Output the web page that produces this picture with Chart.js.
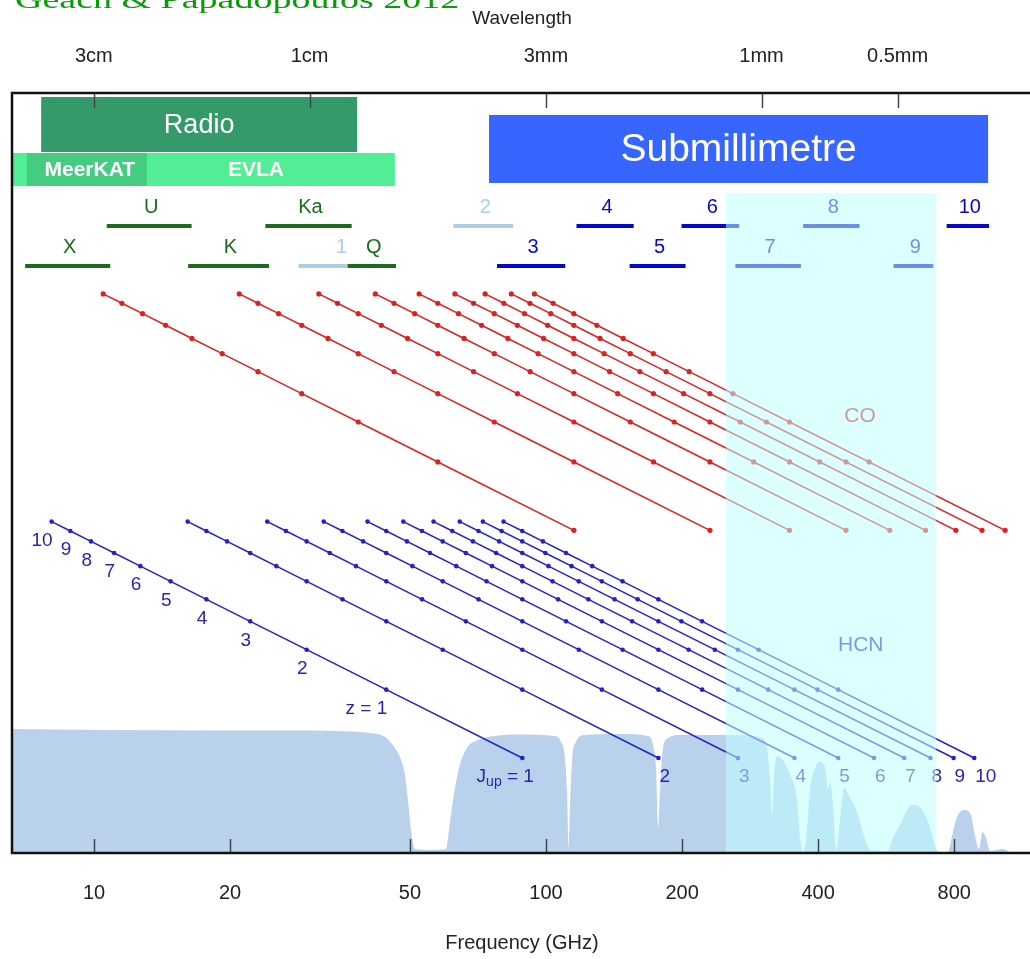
<!DOCTYPE html>
<html>
<head>
<meta charset="utf-8">
<script src="https://cdn.jsdelivr.net/npm/chart.js@4.4.0/dist/chart.umd.min.js"></script>
<style>
  html, body { margin: 0; padding: 0; background: #fff; overflow: hidden; }
  canvas { display: block; }
</style>
</head>
<body>
<canvas id="chart" width="1036" height="959"></canvas>
<script>
// rest frequencies of the rotational lines (GHz)
const coRest = [115.27, 230.54, 345.80, 461.04, 576.27, 691.47, 806.65, 921.80, 1036.91];
const hcnRest = [88.63, 177.26, 265.89, 354.51, 443.12, 531.72, 620.30, 708.88, 797.43, 885.97];
const redshifts = [0, 1, 2, 3, 4, 5, 6, 7, 8, 9, 10];

// axis ticks
const freqTicks = [10, 20, 50, 100, 200, 400, 800];
const wavelengthLabels = ['3cm', '1cm', '3mm', '1mm', '0.5mm'];
const wavelengthMM = [30, 10, 3, 1, 0.5];

// atmospheric transmission
const atmFreq = [6.585, 10.31, 20.0, 28.56, 33.8, 40.8, 44.05, 46.33, 47.5, 48.75,
  49.5, 50.27, 51.3, 55.4, 60.1, 60.7, 61.6, 62.9, 64.5, 66.85,
  70.7, 77.1, 87.6, 104.7, 108.0, 109.9, 111.3, 112.2, 113.0, 114.2,
  116.5, 121.9, 145.8, 168.2, 172.5, 175.2, 177.0, 178.8, 181.5, 186.2,
  197.9, 268.7, 300.6, 308.3, 313.1, 316.2, 319.5, 324.4, 334.5, 346.6,
  359.3, 364.8, 370.4, 376.1, 383.8, 393.7, 403.9, 414.3, 420.7, 425.0,
  431.5, 438.2, 447.2, 456.4, 470.6, 487.6, 505.3, 521.0, 571.0, 585.7,
  607.0, 625.9, 648.6, 675.6, 700.1, 721.9, 736.7, 775.2, 791.1, 811.5,
  841.0, 871.6, 889.5, 907.8, 924.1, 940.8, 960.1, 1025.9, 1063, 1189];
const atmTrans = [1.00, 0.992, 0.988, 0.988, 0.984, 0.968, 0.935, 0.847, 0.774, 0.629,
  0.427, 0.185, 0.032, 0.024, 0.032, 0.121, 0.306, 0.524, 0.71, 0.847,
  0.911, 0.944, 0.956, 0.944, 0.895, 0.79, 0.508, 0.04, 0.387, 0.75,
  0.895, 0.952, 0.96, 0.944, 0.871, 0.669, 0.202, 0.508, 0.847, 0.927,
  0.952, 0.952, 0.927, 0.847, 0.589, 0.306, 0.629, 0.782, 0.75, 0.629,
  0.427, 0.121, 0.008, 0.105, 0.508, 0.685, 0.734, 0.685, 0.508, 0.573,
  0.387, 0.024, 0.266, 0.524, 0.444, 0.331, 0.137, 0.024, 0.016, 0.121,
  0.226, 0.331, 0.387, 0.363, 0.25, 0.089, 0.008, 0.008, 0.137, 0.29,
  0.347, 0.306, 0.137, 0.032, 0.169, 0.121, 0.016, 0.032, 0.008, 0.008];

// receiver bands (GHz)
const rxNames = ['X', 'U', 'K', 'Ka', '1', 'Q', '2', '3', '4', '5', '6', '7', '8', '9', '10'];
const rxLow = [7.04, 10.67, 16.15, 23.94, 28.35, 36.41, 62.4, 77.9, 116.8, 153.1, 199.4, 262.4, 370.7, 587.2, 769.8];
const rxHigh = [10.86, 16.44, 24.38, 37.15, 43.1, 46.58, 84.6, 110.3, 156.3, 203.6, 267.6, 366.3, 493.9, 718.9, 955.3];
const rxRow = [1, 0, 1, 0, 1, 1, 0, 1, 0, 1, 0, 1, 0, 1, 0];
const rxKind = ['vla', 'vla', 'vla', 'vla', 'future', 'vla', 'future', 'alma', 'alma', 'alma', 'alma', 'alma', 'alma', 'alma', 'alma'];

// wide regions and facilities (GHz)
const radioRange = [7.64, 38.2];
const submmBoxRange = [74.8, 950.7];
const evlaRange = [6.5, 46.3];
const meerkatRange = [7.10, 13.09];
const submmShade = [250, 730];

const SANS = '"Liberation Sans", Arial, Helvetica, sans-serif';
Chart.defaults.font.family = SANS;

const RED = '#dd2020';
const BLUE = '#2323c4';
const kindColor = { vla: '#1c6b1c', alma: '#0707c6', future: '#a9d0e0' };

const datasets = [];
datasets.push({
    data: atmFreq.map((f, i) => ({ x: f, y: atmTrans[i] })),
    yAxisID: 'yAtm',
    fill: 'origin',
    backgroundColor: '#b9d1ea',
    borderWidth: 0,
    pointRadius: 0,
    cubicInterpolationMode: 'monotone',
    order: 2
});
coRest.forEach(nu => datasets.push({
    data: redshifts.map(z => ({ x: nu / (1 + z), y: 1 + z })),
    yAxisID: 'yCO',
    borderColor: RED,
    backgroundColor: RED,
    borderWidth: 1.5,
    pointRadius: 2.6,
    pointBorderWidth: 0,
    order: 0
}));
hcnRest.forEach(nu => datasets.push({
    data: redshifts.map(z => ({ x: nu / (1 + z), y: 1 + z })),
    yAxisID: 'yHCN',
    borderColor: BLUE,
    backgroundColor: BLUE,
    borderWidth: 1.5,
    pointRadius: 2.3,
    pointBorderWidth: 0,
    order: 0
}));

const decor = {
    id: 'decor',
    afterDatasetsDraw(chart) {
        const { ctx, chartArea: area, scales } = chart;
        const x = scales.x, yCO = scales.yCO, yHCN = scales.yHCN;
        const top = area.top;
        const px = v => Math.max(area.left, x.getPixelForValue(v));
        ctx.save();
        ctx.textAlign = 'center';
        ctx.textBaseline = 'middle';

        // Radio / Submillimetre / facilities
        ctx.fillStyle = '#359a69';
        ctx.fillRect(px(radioRange[0]), top + 4, px(radioRange[1]) - px(radioRange[0]), 55);
        ctx.fillStyle = '#52ee95';
        ctx.fillRect(px(evlaRange[0]), top + 60, px(evlaRange[1]) - px(evlaRange[0]), 33);
        ctx.fillStyle = '#44cd80';
        ctx.fillRect(px(meerkatRange[0]), top + 60, px(meerkatRange[1]) - px(meerkatRange[0]), 33);
        ctx.fillStyle = '#3766ff';
        ctx.fillRect(px(submmBoxRange[0]), top + 22, px(submmBoxRange[1]) - px(submmBoxRange[0]), 68);

        ctx.fillStyle = '#fff';
        ctx.font = '27px ' + SANS;
        ctx.fillText('Radio', (px(radioRange[0]) + px(radioRange[1])) / 2, top + 33);
        ctx.font = '39px ' + SANS;
        ctx.fillText('Submillimetre', (px(submmBoxRange[0]) + px(submmBoxRange[1])) / 2, top + 57);
        ctx.font = 'bold 21px ' + SANS;
        ctx.fillText('MeerKAT', (px(meerkatRange[0]) + px(meerkatRange[1])) / 2 + 3, top + 77);
        ctx.fillText('EVLA', 256, top + 77);

        // receiver bands
        ctx.font = '20px ' + SANS;
        rxNames.forEach((name, i) => {
            const x0 = px(rxLow[i]), x1 = px(rxHigh[i]);
            const ly = top + 133 + rxRow[i] * 40;
            ctx.fillStyle = kindColor[rxKind[i]];
            ctx.fillRect(x0, ly - 2, x1 - x0, 4);
            ctx.fillText(name, (x0 + x1) / 2 + 2, ly - 19);
        });

        // molecule labels
        ctx.font = '21px ' + SANS;
        ctx.fillStyle = RED;
        ctx.fillText('CO', x.getPixelForValue(495), yCO.getPixelForValue(3.19));
        ctx.fillStyle = BLUE;
        ctx.fillText('HCN', x.getPixelForValue(497), yHCN.getPixelForValue(3.15));

        // redshift labels along HCN J=1
        ctx.font = '19px ' + SANS;
        ctx.fillStyle = '#2626b0';
        ctx.textAlign = 'right';
        redshifts.slice(1).forEach(z => {
            const ptx = x.getPixelForValue(hcnRest[0] / (1 + z));
            const pty = yHCN.getPixelForValue(1 + z);
            ctx.fillText(z === 1 ? 'z = 1' : String(z), ptx + 1, pty + 19);
        });

        // J_up labels at rest frequency
        const restY = yHCN.getPixelForValue(1) + 19;
        ctx.textAlign = 'left';
        hcnRest.forEach((nu, i) => {
            ctx.fillText(String(i + 1), x.getPixelForValue(nu) + 1, restY);
        });
        let jx = x.getPixelForValue(hcnRest[0]) + 1;
        ctx.textAlign = 'right';
        ctx.fillText(' = ', jx, restY);
        jx -= ctx.measureText(' = ').width;
        ctx.font = '14px ' + SANS;
        ctx.fillText('up', jx, restY + 5);
        jx -= ctx.measureText('up').width;
        ctx.font = '19px ' + SANS;
        ctx.fillText('J', jx, restY);

        // submillimetre shading
        ctx.fillStyle = 'rgba(192,255,255,0.55)';
        const s0 = x.getPixelForValue(submmShade[0]), s1 = x.getPixelForValue(submmShade[1]);
        ctx.fillRect(s0, top + 100, s1 - s0, area.bottom - top - 100);
        ctx.restore();
    },
    afterDraw(chart) {
        const { ctx, chartArea: area, scales } = chart;
        ctx.save();
        // inner ticks
        ctx.strokeStyle = '#444';
        ctx.lineWidth = 1.5;
        scales.x.ticks.forEach(t => {
            const p = Math.round(scales.x.getPixelForValue(t.value)) + 0.5;
            ctx.beginPath(); ctx.moveTo(p, area.bottom); ctx.lineTo(p, area.bottom - 14); ctx.stroke();
        });
        scales.x2.ticks.forEach(t => {
            const p = Math.round(scales.x2.getPixelForValue(t.value)) + 0.5;
            ctx.beginPath(); ctx.moveTo(p, area.top); ctx.lineTo(p, area.top + 15); ctx.stroke();
        });
        // frame
        ctx.strokeStyle = '#111';
        ctx.lineWidth = 2.5;
        ctx.strokeRect(area.left, area.top, area.right - area.left, area.bottom - area.top);
        // citation, cut off at the top
        ctx.fillStyle = '#0a9a0a';
        ctx.font = '38px "Liberation Serif", "Times New Roman", serif';
        ctx.textAlign = 'left';
        ctx.textBaseline = 'alphabetic';
        ctx.translate(15, 7.5);
        ctx.scale(1, 0.66);
        ctx.fillText('Geach & Papadopoulos 2012', 0, 0);
        ctx.restore();
    }
};

const xMin = 6.585, xMax = 1189;

new Chart(document.getElementById('chart'), {
    type: 'line',
    data: { datasets },
    options: {
        responsive: false,
        animation: false,
        layout: { padding: { left: 12, right: 4, top: 0, bottom: 0 } },
        plugins: { legend: { display: false }, tooltip: { enabled: false } },
        scales: {
            x: {
                type: 'logarithmic',
                position: 'bottom',
                min: xMin, max: xMax,
                grid: { display: false, drawTicks: false },
                border: { display: false },
                afterBuildTicks: s => { s.ticks = freqTicks.map(v => ({ value: v })); },
                afterFit: s => { s.height = 106; },
                ticks: {
                    autoSkip: false, maxRotation: 0, padding: 28,
                    color: '#222', font: { size: 20 },
                    callback: v => String(v)
                },
                title: {
                    display: true, text: 'Frequency (GHz)', color: '#222',
                    font: { size: 20 }, padding: { top: 0, bottom: 4 }
                }
            },
            x2: {
                type: 'logarithmic',
                position: 'top',
                min: xMin, max: xMax,
                grid: { display: false, drawTicks: false },
                border: { display: false },
                afterBuildTicks: s => { s.ticks = wavelengthMM.map(l => ({ value: 299.792458 / l })); },
                afterFit: s => { s.height = 93; },
                ticks: {
                    autoSkip: false, maxRotation: 0, padding: 25,
                    color: '#222', font: { size: 20 },
                    callback: (v, i) => wavelengthLabels[i]
                },
                title: {
                    display: true, text: 'Wavelength', color: '#222',
                    font: { size: 19 }, padding: { top: 7, bottom: 0 }
                }
            },
            yCO: { type: 'logarithmic', display: false, min: 0.03789, max: 84.4 },
            yHCN: { type: 'logarithmic', display: false, min: 0.3815, max: 850.3 },
            yAtm: { type: 'linear', display: false, min: 0, max: 6.129 }
        }
    },
    plugins: [decor]
});
</script>
</body>
</html>
